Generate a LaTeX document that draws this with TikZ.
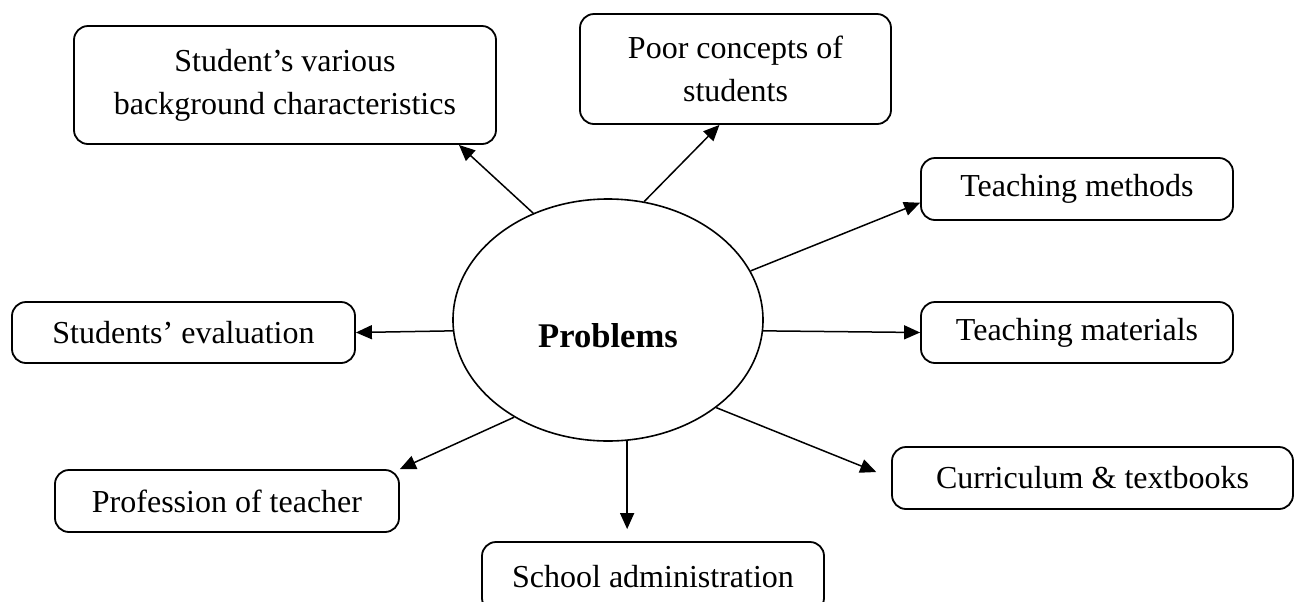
\documentclass[tikz,border=0pt]{standalone}
\usepackage{fontspec}
\setmainfont{Liberation Serif}
\usetikzlibrary{arrows.meta,shapes.geometric}
\tikzset{
  topicBox/.style={draw,rounded corners=7pt,line width=0.9pt,align=center,inner sep=0pt,
    font=\fontsize{16}{21.5}\selectfont},
  linkArrow/.style={-{Triangle[length=8pt,width=7pt]},line width=0.75pt}
}

\begin{document}
\begin{tikzpicture}[x=0.5pt,y=-0.5pt]
\useasboundingbox (0,0) rectangle (1298,601);
% central ellipse, text sits a little below its middle
\node[ellipse,draw,line width=0.8pt,minimum width=155pt,minimum height=121pt,inner sep=0pt,
  text height=27pt,text depth=0pt,font=\bfseries\fontsize{17.3}{20}\selectfont] (prob) at (608,320) {Problems};

\node[topicBox,minimum width=211pt,minimum height=59pt] (back) at (285,85) {Student's various\\background characteristics};
\node[topicBox,minimum width=155.5pt,minimum height=55pt] (poor) at (735.5,69) {Poor concepts of\\students};
\node[topicBox,minimum width=156pt,minimum height=31pt] (meth) at (1077,189) {Teaching methods};
\node[topicBox,minimum width=156pt,minimum height=30.5pt] (mat) at (1077,332.5) {Teaching materials};
\node[topicBox,minimum width=171.5pt,minimum height=30.5pt] (eval) at (183.5,332.5) {Students' evaluation};
\node[topicBox,minimum width=172pt,minimum height=31pt] (prof) at (227,501) {Profession of teacher};
\node[topicBox,minimum width=200.5pt,minimum height=31pt] (curr) at (1092.5,478) {Curriculum \& textbooks};
\node[topicBox,minimum width=171pt,minimum height=35pt] (admin) at (653,577) {School administration};

% arrows out of the ellipse
\draw[linkArrow] (prob.125) -- (back.-19);
\draw[linkArrow] (prob.73) -- (poor.-106);
\draw[linkArrow] (prob.19) -- (meth.185);
\draw[linkArrow] (prob.-4) -- (mat.west);
\draw[linkArrow,shorten >=8pt] (prob.-39) -- (curr.west);
\draw[linkArrow,shorten >=6pt] (prob.-81) -- (prob.-81 |- admin.north);
\draw[linkArrow] (prob.-134) -- (prof.north east);
\draw[linkArrow] (prob.184) -- (eval.east);
\end{tikzpicture}
\end{document}
